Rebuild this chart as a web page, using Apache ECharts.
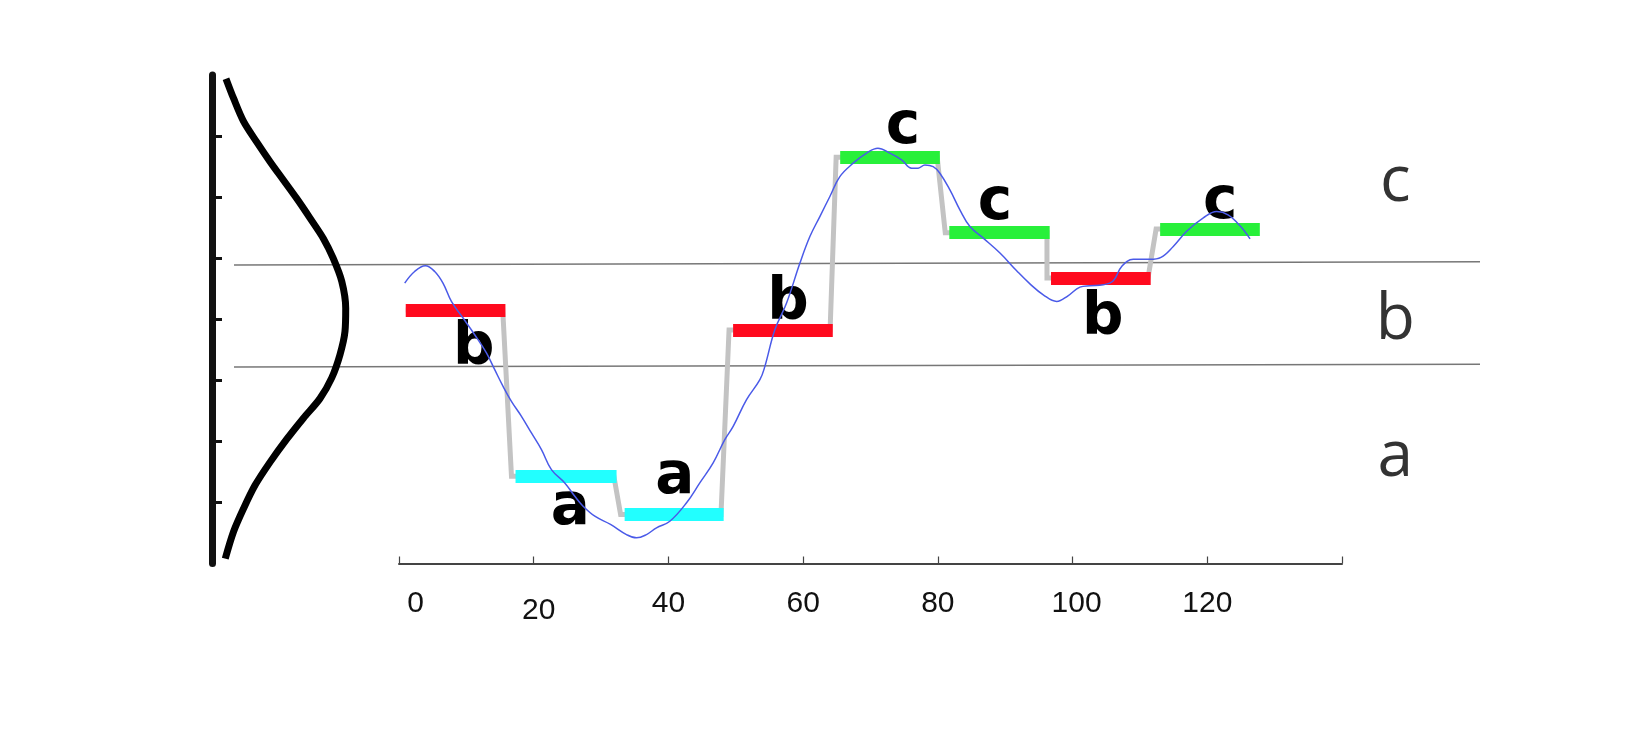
<!DOCTYPE html>
<html><head><meta charset="utf-8">
<script src="https://cdn.jsdelivr.net/npm/echarts@6/dist/echarts.min.js"></script>
<style>html,body{margin:0;padding:0;background:#fff}#c{width:1640px;height:754px}</style>
</head><body><div id="c"></div>
<script>
// ---- data ----
const xTickValues = [0, 20, 40, 60, 80, 100, 120];
const xTickLabels = ['0', '20', '40', '60', '80', '100', '120'];

const seriesX = [0.85,2.32,3.92,5.30,6.53,7.78,9.51,11.24,12.98,14.21,15.45,16.69,18.18,19.66,21.15,22.63,24.61,26.10,27.33,29.07,31.4,33.77,35.26,36.74,38.23,40.21,42.69,44.66,46.64,48.37,49.61,51.60,53.58,54.3,55.80,57.54,59.51,61.00,62.48,63.97,65.45,67.43,69.42,71.10,72.88,74.62,76.10,77.08,78.08,79.31,80.30,81.79,83.27,84.76,86.74,89.22,91.70,93.67,95.65,97.64,99.32,101.10,102.58,104.56,106.05,107.29,109.01,111.49,113.13,114.95,116.94,119.41,121.40,123.08,124.86,126.35];
const seriesY = [0.296,0.391,0.438,0.391,0.296,0.146,0.010,-0.127,-0.276,-0.413,-0.550,-0.672,-0.795,-0.931,-1.067,-1.231,-1.340,-1.450,-1.531,-1.613,-1.680,-1.763,-1.790,-1.763,-1.708,-1.654,-1.503,-1.340,-1.176,-0.986,-0.877,-0.658,-0.495,-0.390,-0.086,0.133,0.458,0.677,0.841,1.005,1.168,1.278,1.360,1.400,1.360,1.305,1.237,1.237,1.264,1.250,1.196,1.059,0.896,0.759,0.664,0.542,0.397,0.290,0.200,0.146,0.192,0.263,0.274,0.282,0.315,0.432,0.491,0.491,0.507,0.596,0.720,0.830,0.882,0.855,0.765,0.658];

const paaSymbols = ['b', 'a', 'a', 'b', 'c', 'c', 'b', 'c'];
const paaValues  = [0.076, -1.286, -1.599, -0.088, 1.326, 0.709, 0.338, 0.739];
const paaStart   = [1.0, 17.3, 33.5, 49.6, 65.5, 81.7, 96.8, 113.0];
const paaEnd     = [15.8, 32.3, 48.2, 64.4, 80.3, 96.6, 111.6, 127.8];

const letterX = [11.09, 25.42, 40.95, 57.74, 74.81, 88.47, 104.5, 121.9];
const letterY = [-0.241, -1.554, -1.300, 0.127, 1.566, 0.945, 0.004, 0.949];

const breakLeft  = [0.444, -0.391];
const breakRight = [0.471, -0.369];

const regionLetters = ['c', 'b', 'a'];
const regionY = [1.115, -0.014, -1.136];

const gaussZ   = [1.97, 1.81, 1.62, 1.45, 1.29, 1.14, 0.99, 0.83, 0.66, 0.50, 0.31, 0.09, -0.10, -0.29, -0.48, -0.65, -0.81, -0.98, -1.17, -1.36, -1.55, -1.74, -1.96];
const gaussPdf = [0.061, 0.082, 0.110, 0.147, 0.184, 0.221, 0.258, 0.295, 0.333, 0.360, 0.384, 0.395, 0.393, 0.379, 0.356, 0.323, 0.277, 0.231, 0.184, 0.142, 0.110, 0.082, 0.059];

const leftTicks = [-1.5, -1, -0.5, 0, 0.5, 1, 1.5];

// ---- styles ----
const symColor = { a: '#22ffff', b: '#ff0a1e', c: '#28f03a' };

const chart = echarts.init(document.getElementById('c'), null, { renderer: 'canvas' });

const option = {
  animation: false,
  backgroundColor: '#ffffff',
  grid: [
    { left: 399, width: 943, top: 75, bottom: 190.5 },   // main
    { left: 212, width: 135.5, top: 75, bottom: 190.5 }, // gaussian
    { left: 234, right: 160, top: 75, bottom: 190.5 }    // breakpoints
  ],
  xAxis: [
    {
      gridIndex: 0, type: 'value', min: 0, max: 140, interval: 20,
      axisLine: { onZero: false, lineStyle: { color: '#444', width: 2 } },
      axisTick: { inside: true, length: 7, lineStyle: { color: '#444', width: 1.2 } },
      splitLine: { show: false },
      axisLabel: {
        customValues: xTickValues,
        margin: 25,
        fontSize: 30, fontFamily: 'Liberation Sans', color: '#111',
        formatter: function (v) {
          const s = xTickLabels[xTickValues.indexOf(v)];
          if (v === 0) return '{p0|' + s + '}';
          if (v === 20) return '{p20|' + s + '}';
          if (v === 100) return '{p100|' + s + '}';
          return '{n|' + s + '}';
        },
        rich: {
          n: { fontSize: 30, fontFamily: 'Liberation Sans', color: '#111' },
          p0: { fontSize: 30, fontFamily: 'Liberation Sans', color: '#111', padding: [0, 0, 0, 33] },
          p20: { fontSize: 30, fontFamily: 'Liberation Sans', color: '#111', padding: [7, 0, 0, 10] },
          p100: { fontSize: 30, fontFamily: 'Liberation Sans', color: '#111', padding: [0, 0, 0, 8] }
        }
      }
    },
    { gridIndex: 1, type: 'value', min: 0.022, max: 0.4, show: false },
    { gridIndex: 2, type: 'value', min: 0, max: 1, show: false }
  ],
  yAxis: [
    { gridIndex: 0, type: 'value', min: -2, max: 2, show: false },
    {
      gridIndex: 1, type: 'value', min: -2, max: 2,
      axisLine: { show: true, onZero: false, lineStyle: { color: '#111', width: 7 } },
      axisTick: { show: true, inside: true, length: 10, customValues: leftTicks, lineStyle: { color: '#111', width: 3 } },
      axisLabel: { show: false },
      splitLine: { show: false }
    },
    { gridIndex: 2, type: 'value', min: -2, max: 2, show: false }
  ],
  series: [
    // breakpoint lines
    {
      type: 'line', xAxisIndex: 2, yAxisIndex: 2, symbol: 'none', z: 1, silent: true,
      lineStyle: { color: '#777', width: 1.6 },
      data: [[0, breakLeft[0]], [1, breakRight[0]]]
    },
    {
      type: 'line', xAxisIndex: 2, yAxisIndex: 2, symbol: 'none', z: 1, silent: true,
      lineStyle: { color: '#777', width: 1.6 },
      data: [[0, breakLeft[1]], [1, breakRight[1]]]
    },
    // region letters on the right
    {
      type: 'scatter', xAxisIndex: 2, yAxisIndex: 2, symbolSize: 0, z: 1, silent: true,
      itemStyle: { opacity: 1 },
      label: { show: true, position: 'inside', fontSize: 64, fontFamily: 'Open Sans', color: '#333',
               formatter: function (p) { return regionLetters[p.dataIndex]; } },
      data: regionY.map(function (y) { return [0.932, y]; })
    },
    // gaussian curve
    {
      type: 'line', xAxisIndex: 1, yAxisIndex: 1, symbol: 'none', smooth: 0.3, z: 2, silent: true,
      lineStyle: { color: '#000', width: 7, join: 'round' },
      data: gaussZ.map(function (z, i) { return [gaussPdf[i], z]; })
    },
    // gray PAA step line
    {
      type: 'line', xAxisIndex: 0, yAxisIndex: 0, symbol: 'none', z: 2, silent: true,
      lineStyle: { color: '#c3c3c3', width: 5, join: 'miter' },
      data: (function () {
        const d = [];
        paaValues.forEach(function (v, i) {
          d.push([i === 0 ? paaStart[i] : paaStart[i] - 0.6, v]);
          d.push([paaEnd[i] - 0.4, v]);
        });
        return d;
      })()
    },
    // PAA bars
    {
      type: 'lines', coordinateSystem: 'cartesian2d', xAxisIndex: 0, yAxisIndex: 0, z: 3, silent: true,
      lineStyle: { width: 13, opacity: 1, cap: 'butt' },
      data: paaValues.map(function (v, i) {
        return { coords: [[paaStart[i], v], [paaEnd[i], v]], lineStyle: { color: symColor[paaSymbols[i]], width: 13, opacity: 1 } };
      })
    },
    // bold symbol letters
    {
      type: 'scatter', xAxisIndex: 0, yAxisIndex: 0, symbolSize: 0, z: 4, silent: true,
      itemStyle: { opacity: 1 },
      label: { show: true, position: 'inside', fontSize: 58, fontWeight: 'bold', fontFamily: 'DejaVu Sans', color: '#000',
               formatter: function (p) { return paaSymbols[p.dataIndex]; } },
      data: letterX.map(function (x, i) { return [x, letterY[i]]; })
    },
    // time series
    {
      type: 'line', xAxisIndex: 0, yAxisIndex: 0, symbol: 'none', smooth: 0.4, z: 5, silent: true,
      lineStyle: { color: '#4a5ae8', width: 1.5 },
      data: seriesX.map(function (x, i) { return [x, seriesY[i]]; })
    }
  ]
};
chart.setOption(option);
</script>
</body></html>
